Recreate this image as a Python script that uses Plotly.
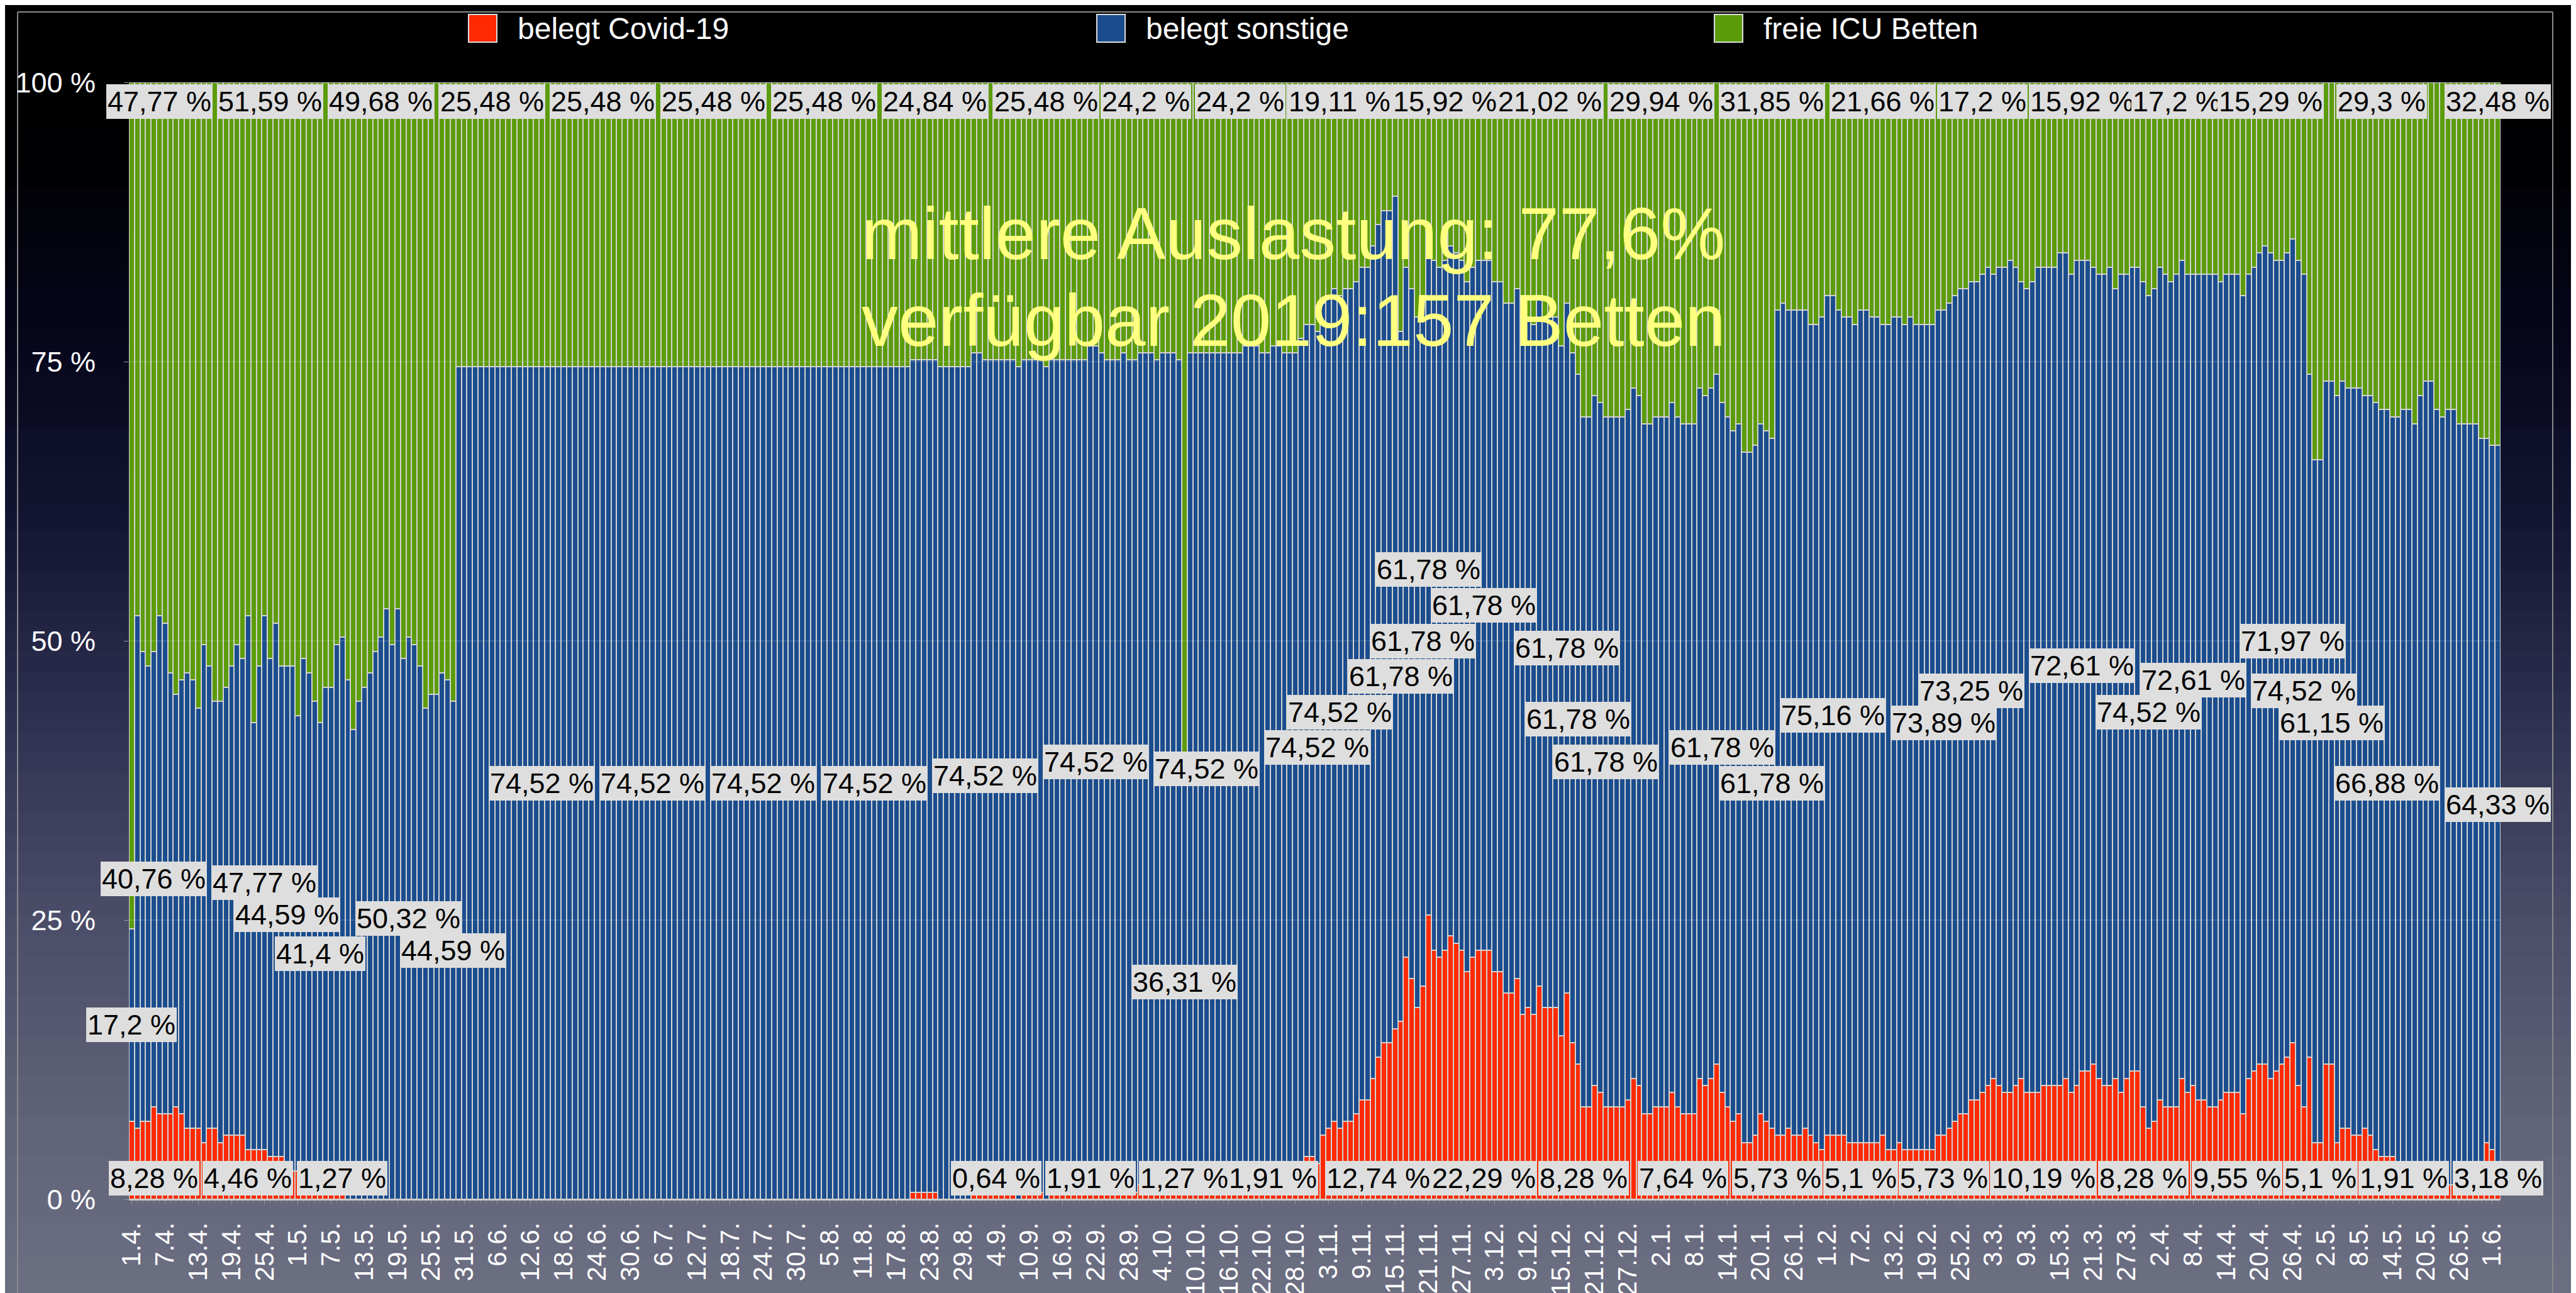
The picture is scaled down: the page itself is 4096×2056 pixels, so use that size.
import plotly.graph_objects as go

CAPACITY = 157  # verfügbare ICU-Betten 2019

# 1.4.2020 ... 2.6.2021, one bar per day (values in beds)
covid_beds = [
    11, 10, 11, 11, 13, 12, 12, 12, 13, 12, 10, 10, 10, 8, 10, 10, 8, 9, 9, 9,
    9, 7, 7, 7, 7, 6, 6, 6, 5, 4, 4, 3, 3, 3, 2, 2, 2, 2, 2, 0,
    0, 0, 0, 0, 0, 0, 0, 0, 0, 0, 0, 0, 0, 0, 0, 0, 0, 0, 0, 0,
    0, 0, 0, 0, 0, 0, 0, 0, 0, 0, 0, 0, 0, 0, 0, 0, 0, 0, 0, 0,
    0, 0, 0, 0, 0, 0, 0, 0, 0, 0, 0, 0, 0, 0, 0, 0, 0, 0, 0, 0,
    0, 0, 0, 0, 0, 0, 0, 0, 0, 0, 0, 0, 0, 0, 0, 0, 0, 0, 0, 0,
    0, 0, 0, 0, 0, 0, 0, 0, 0, 0, 0, 0, 0, 0, 0, 0, 0, 0, 0, 0,
    0, 1, 1, 1, 1, 1, 0, 0, 0, 0, 0, 0, 2, 2, 1, 1, 1, 1, 1, 1,
    0, 1, 1, 1, 1, 0, 1, 1, 1, 1, 1, 1, 1, 3, 3, 2, 1, 1, 1, 2,
    1, 1, 2, 2, 2, 1, 2, 2, 2, 1, 2, 2, 2, 2, 2, 2, 2, 2, 2, 2,
    2, 3, 3, 3, 2, 2, 3, 3, 2, 2, 2, 4, 6, 6, 5, 9, 10, 11, 10, 11,
    11, 12, 14, 14, 17, 20, 22, 22, 24, 25, 34, 31, 27, 30, 40, 35, 34, 35, 37, 36,
    35, 32, 34, 35, 35, 35, 32, 32, 29, 29, 31, 26, 27, 26, 30, 27, 27, 27, 23, 29,
    22, 19, 13, 13, 16, 15, 13, 13, 13, 13, 14, 17, 16, 12, 12, 13, 13, 13, 15, 13,
    12, 12, 12, 17, 16, 17, 19, 15, 13, 11, 12, 8, 8, 9, 12, 11, 10, 9, 9, 10,
    9, 9, 10, 9, 8, 7, 9, 9, 9, 9, 8, 8, 8, 8, 8, 8, 9, 7, 7, 8,
    7, 7, 7, 7, 7, 7, 9, 9, 10, 11, 12, 12, 14, 14, 15, 16, 17, 16, 15, 15,
    16, 17, 15, 15, 15, 16, 16, 16, 16, 17, 15, 16, 18, 18, 19, 17, 16, 16, 17, 15,
    17, 18, 18, 13, 10, 11, 14, 13, 13, 13, 17, 15, 16, 14, 14, 13, 13, 14, 15, 15,
    15, 12, 17, 18, 19, 19, 17, 18, 19, 20, 22, 16, 13, 20, 8, 8, 19, 19, 8, 10,
    10, 9, 9, 10, 9, 7, 6, 6, 6, 3, 3, 3, 2, 2, 2, 2, 2, 2, 2, 2,
    2, 2, 2, 2, 2, 8, 7, 5,
]

sonst_beds = [
    27, 72, 66, 64, 64, 70, 69, 62, 58, 61, 64, 63, 59, 70, 65, 60, 62, 63, 66, 69,
    67, 75, 60, 68, 75, 70, 75, 69, 70, 71, 64, 73, 71, 67, 65, 70, 70, 76, 77, 73,
    66, 70, 72, 74, 77, 79, 83, 78, 83, 76, 79, 78, 75, 69, 71, 71, 74, 73, 70, 117,
    117, 117, 117, 117, 117, 117, 117, 117, 117, 117, 117, 117, 117, 117, 117, 117, 117, 117, 117, 117,
    117, 117, 117, 117, 117, 117, 117, 117, 117, 117, 117, 117, 117, 117, 117, 117, 117, 117, 117, 117,
    117, 117, 117, 117, 117, 117, 117, 117, 117, 117, 117, 117, 117, 117, 117, 117, 117, 117, 117, 117,
    117, 117, 117, 117, 117, 117, 117, 117, 117, 117, 117, 117, 117, 117, 117, 117, 117, 117, 117, 117,
    117, 117, 117, 117, 117, 117, 117, 117, 117, 117, 117, 117, 117, 117, 117, 117, 117, 117, 117, 117,
    117, 117, 117, 117, 117, 117, 117, 117, 117, 117, 117, 117, 117, 117, 117, 117, 117, 117, 117, 117,
    117, 117, 117, 117, 117, 117, 117, 117, 117, 117, 57, 117, 117, 117, 117, 117, 117, 117, 117, 117,
    117, 117, 117, 117, 117, 117, 117, 117, 117, 117, 117, 117, 117, 117, 117, 117, 117, 117, 117, 117,
    117, 117, 117, 117, 117, 117, 117, 117, 117, 97, 97, 97, 97, 97, 97, 97, 97, 97, 97, 97,
    97, 97, 97, 97, 97, 97, 97, 97, 97, 97, 97, 97, 97, 97, 97, 97, 97, 97, 97, 97,
    97, 97, 97, 97, 97, 97, 97, 97, 97, 97, 97, 97, 97, 97, 97, 97, 97, 97, 97, 97,
    97, 97, 97, 97, 97, 97, 97, 97, 97, 97, 97, 97, 97, 97, 97, 97, 97, 116, 117, 115,
    116, 116, 115, 114, 115, 117, 118, 118, 116, 115, 116, 115, 117, 117, 116, 116, 114, 116, 117, 116,
    116, 117, 116, 116, 116, 116, 116, 116, 116, 116, 116, 116, 115, 115, 115, 115, 113, 115, 116, 117,
    115, 112, 113, 114, 116, 115, 115, 115, 117, 116, 115, 116, 114, 114, 112, 113, 114, 115, 111, 115,
    113, 113, 113, 116, 117, 117, 117, 117, 116, 117, 115, 115, 114, 116, 116, 117, 117, 115, 115, 115,
    115, 115, 113, 113, 114, 115, 116, 114, 113, 113, 113, 116, 117, 96, 96, 96, 96, 96, 105, 105,
    104, 105, 105, 103, 104, 105, 105, 105, 104, 107, 108, 108, 107, 111, 113, 113, 109, 108, 109, 109,
    107, 107, 107, 107, 105, 99, 99, 101,
]

# free beds = capacity minus occupied beds
free_beds = [CAPACITY - c - s for c, s in zip(covid_beds, sonst_beds)]

tick_labels = [
    "1.4.", "7.4.", "13.4.", "19.4.", "25.4.", "1.5.", "7.5.", "13.5.", "19.5.", "25.5.",
    "31.5.", "6.6.", "12.6.", "18.6.", "24.6.", "30.6.", "6.7.", "12.7.", "18.7.", "24.7.",
    "30.7.", "5.8.", "11.8.", "17.8.", "23.8.", "29.8.", "4.9.", "10.9.", "16.9.", "22.9.",
    "28.9.", "4.10.", "10.10.", "16.10.", "22.10.", "28.10.", "3.11.", "9.11.", "15.11.", "21.11.",
    "27.11.", "3.12.", "9.12.", "15.12.", "21.12.", "27.12.", "2.1.", "8.1.", "14.1.", "20.1.",
    "26.1.", "1.2.", "7.2.", "13.2.", "19.2.", "25.2.", "3.3.", "9.3.", "15.3.", "21.3.",
    "27.3.", "2.4.", "8.4.", "14.4.", "20.4.", "26.4.", "2.5.", "8.5.", "14.5.", "20.5.",
    "26.5.", "1.6.",
]
TICK_STEP = 6  # one tick label every 6 days

# bars that carry a value label, per series
covid_label_days = [4, 21, 38, 156, 173, 190, 206, 225, 244, 262, 280, 297, 312, 327, 345, 363, 380, 395, 410, 427]
sonst_label_days = [0, 4, 24, 28, 34, 50, 58, 74, 94, 114, 134, 154, 174, 190, 194, 214, 218, 229, 233, 234,
                    244, 259, 261, 266, 287, 296, 307, 327, 332, 352, 364, 372, 390, 392, 397, 407, 427]
free_label_days = [5, 25, 45, 65, 85, 105, 125, 145, 165, 183, 200, 218, 237, 256, 276, 296, 316, 334, 352,
                   369, 386, 406, 427]

series_names = ["belegt Covid-19", "belegt sonstige", "freie ICU Betten"]
note_lines = ["mittlere Auslastung: 77,6%", "verfügbar 2019:157 Betten"]

# ---------------------------------------------------------------- styling
W, H = 4096, 2056
ML, MR, MT, MB = 197, 128, 123, 157
PW, PH = W - ML - MR, H - MT - MB
FONT = "Liberation Sans, Arial, Helvetica, sans-serif"
RED, BLUE, GREEN = "#FF2A00", "#1B4D8E", "#5C9C0B"
EDGE = "#d2d2d2"
LABEL_BG = "#dedede"


def xp(px):
    return (px - ML) / PW


def yp(py):
    return (H - MB - py) / PH


def pct(n):
    return 100.0 * n / CAPACITY


def fmt(n):
    s = f"{round(pct(n), 2):.2f}".rstrip("0").rstrip(".")
    return s.replace(".", ",") + " %"


days = list(range(len(covid_beds)))

fig = go.Figure()
for name, beds, col in [(series_names[0], covid_beds, RED),
                        (series_names[1], sonst_beds, BLUE),
                        (series_names[2], free_beds, GREEN)]:
    fig.add_trace(go.Bar(
        x=days, y=[pct(b) for b in beds], name=name, showlegend=False,
        marker=dict(color=col, line=dict(color=EDGE, width=2)),
        hoverinfo="skip",
    ))

annotations = []
lab_font = dict(family=FONT, size=45, color="black")
for i in free_label_days:
    annotations.append(dict(x=i, y=100, xref="x", yref="y", text=fmt(free_beds[i]), showarrow=False,
                            yanchor="top", yshift=-3, bgcolor=LABEL_BG, borderpad=2, borderwidth=0,
                            font=lab_font))
for i in sonst_label_days:
    annotations.append(dict(x=i, y=pct(covid_beds[i] + sonst_beds[i] / 2), xref="x", yref="y",
                            text=fmt(sonst_beds[i]), showarrow=False, yanchor="middle",
                            bgcolor=LABEL_BG, borderpad=2, borderwidth=0, font=lab_font))
for i in covid_label_days:
    annotations.append(dict(x=i, y=0, xref="x", yref="y", text=fmt(covid_beds[i]), showarrow=False,
                            yanchor="bottom", yshift=6, bgcolor=LABEL_BG, borderpad=2, borderwidth=0,
                            font=lab_font))

# yellow note
annotations.append(dict(x=xp(1360), y=yp(364), xref="paper", yref="paper", text=note_lines[0],
                        showarrow=False, xanchor="left", yanchor="middle",
                        font=dict(family=FONT, size=116, color="#ffff80")))
annotations.append(dict(x=xp(1360), y=yp(502), xref="paper", yref="paper", text=note_lines[1],
                        showarrow=False, xanchor="left", yanchor="middle",
                        font=dict(family=FONT, size=116, color="#ffff80")))

# custom legend
shapes = []
legend_pos = [(737, RED), (1736, BLUE), (2718, GREEN)]
for (lx, col), name in zip(legend_pos, series_names):
    shapes.append(dict(type="rect", xref="paper", yref="paper", x0=xp(lx), x1=xp(lx + 45),
                       y0=yp(59), y1=yp(15), fillcolor=col, line=dict(color="#dddddd", width=2),
                       layer="above"))
    annotations.append(dict(x=xp(lx + 76), y=yp(37), xref="paper", yref="paper", text=name,
                            showarrow=False, xanchor="left", yanchor="middle",
                            font=dict(family=FONT, size=48, color="white")))

# background gradient (dark top -> grey-blue bottom)
stops = [(0.0, (0, 0, 0)), (0.12, (1, 1, 3)), (0.25, (5, 6, 26)), (0.4, (20, 21, 50)),
         (0.55, (46, 48, 80)), (0.7, (74, 76, 104)), (0.85, (95, 97, 119)), (1.0, (109, 111, 131))]


def grad(t):
    for (t0, c0), (t1, c1) in zip(stops[:-1], stops[1:]):
        if t <= t1:
            f = (t - t0) / (t1 - t0)
            return "rgb(%d,%d,%d)" % tuple(round(a + (b - a) * f) for a, b in zip(c0, c1))
    return "rgb(%d,%d,%d)" % stops[-1][1]


NB = 64
for k in range(NB):
    py0, py1 = H * k / NB, H * (k + 1) / NB + 1
    shapes.append(dict(type="rect", xref="paper", yref="paper", x0=xp(0), x1=xp(W),
                       y0=yp(py1), y1=yp(py0), fillcolor=grad((k + 0.5) / NB),
                       line=dict(width=0), layer="below"))

# outer frame
for (x0, y0, x1, y1) in [(20, 11, 4051, 11), (20, 11, 20, H + 5), (4051, 11, 4051, H + 5)]:
    shapes.append(dict(type="line", xref="paper", yref="paper", x0=xp(x0), y0=yp(y0),
                       x1=xp(x1), y1=yp(y1), line=dict(color="#8a8a8a", width=2), layer="below"))

# faint grid lines over the bars
for g in [25, 50, 75]:
    shapes.append(dict(type="line", xref="paper", yref="y", x0=0, x1=1, y0=g, y1=g,
                       line=dict(color="rgba(255,255,255,0.13)", width=2), layer="above"))

fig.update_layout(
    width=W, height=H,
    margin=dict(l=ML, r=MR, t=MT, b=MB),
    barmode="stack", bargap=0,
    paper_bgcolor="#000000", plot_bgcolor="rgba(0,0,0,0)",
    showlegend=False,
    font=dict(family=FONT, color="white"),
    annotations=annotations, shapes=shapes,
    xaxis=dict(
        range=[-0.5, len(days) - 0.5], tickmode="array",
        tickvals=[k * TICK_STEP for k in range(len(tick_labels))], ticktext=tick_labels,
        tickangle=-90, tickfont=dict(family=FONT, size=42, color="white"),
        ticks="outside", ticklen=6, tickcolor="#9a9a9a", tickwidth=1,
        minor=dict(ticks="outside", dtick=1, tick0=0, ticklen=4, tickcolor="#8a8a8a"),
        showline=True, linecolor="#c8c8c8", linewidth=2,
        showgrid=False, zeroline=False, automargin=False, ticklabelstandoff=12,
    ),
    yaxis=dict(
        range=[0, 100], tickmode="array", tickvals=[0, 25, 50, 75, 100],
        ticktext=["0 %", "25 %", "50 %", "75 %", "100 %"],
        tickfont=dict(family=FONT, size=45, color="white"),
        ticks="outside", ticklen=7, tickcolor="#9a9a9a",
        showgrid=False, zeroline=False, showline=False, automargin=False, ticklabelstandoff=36,
    ),
)

fig.write_html("out.html")
